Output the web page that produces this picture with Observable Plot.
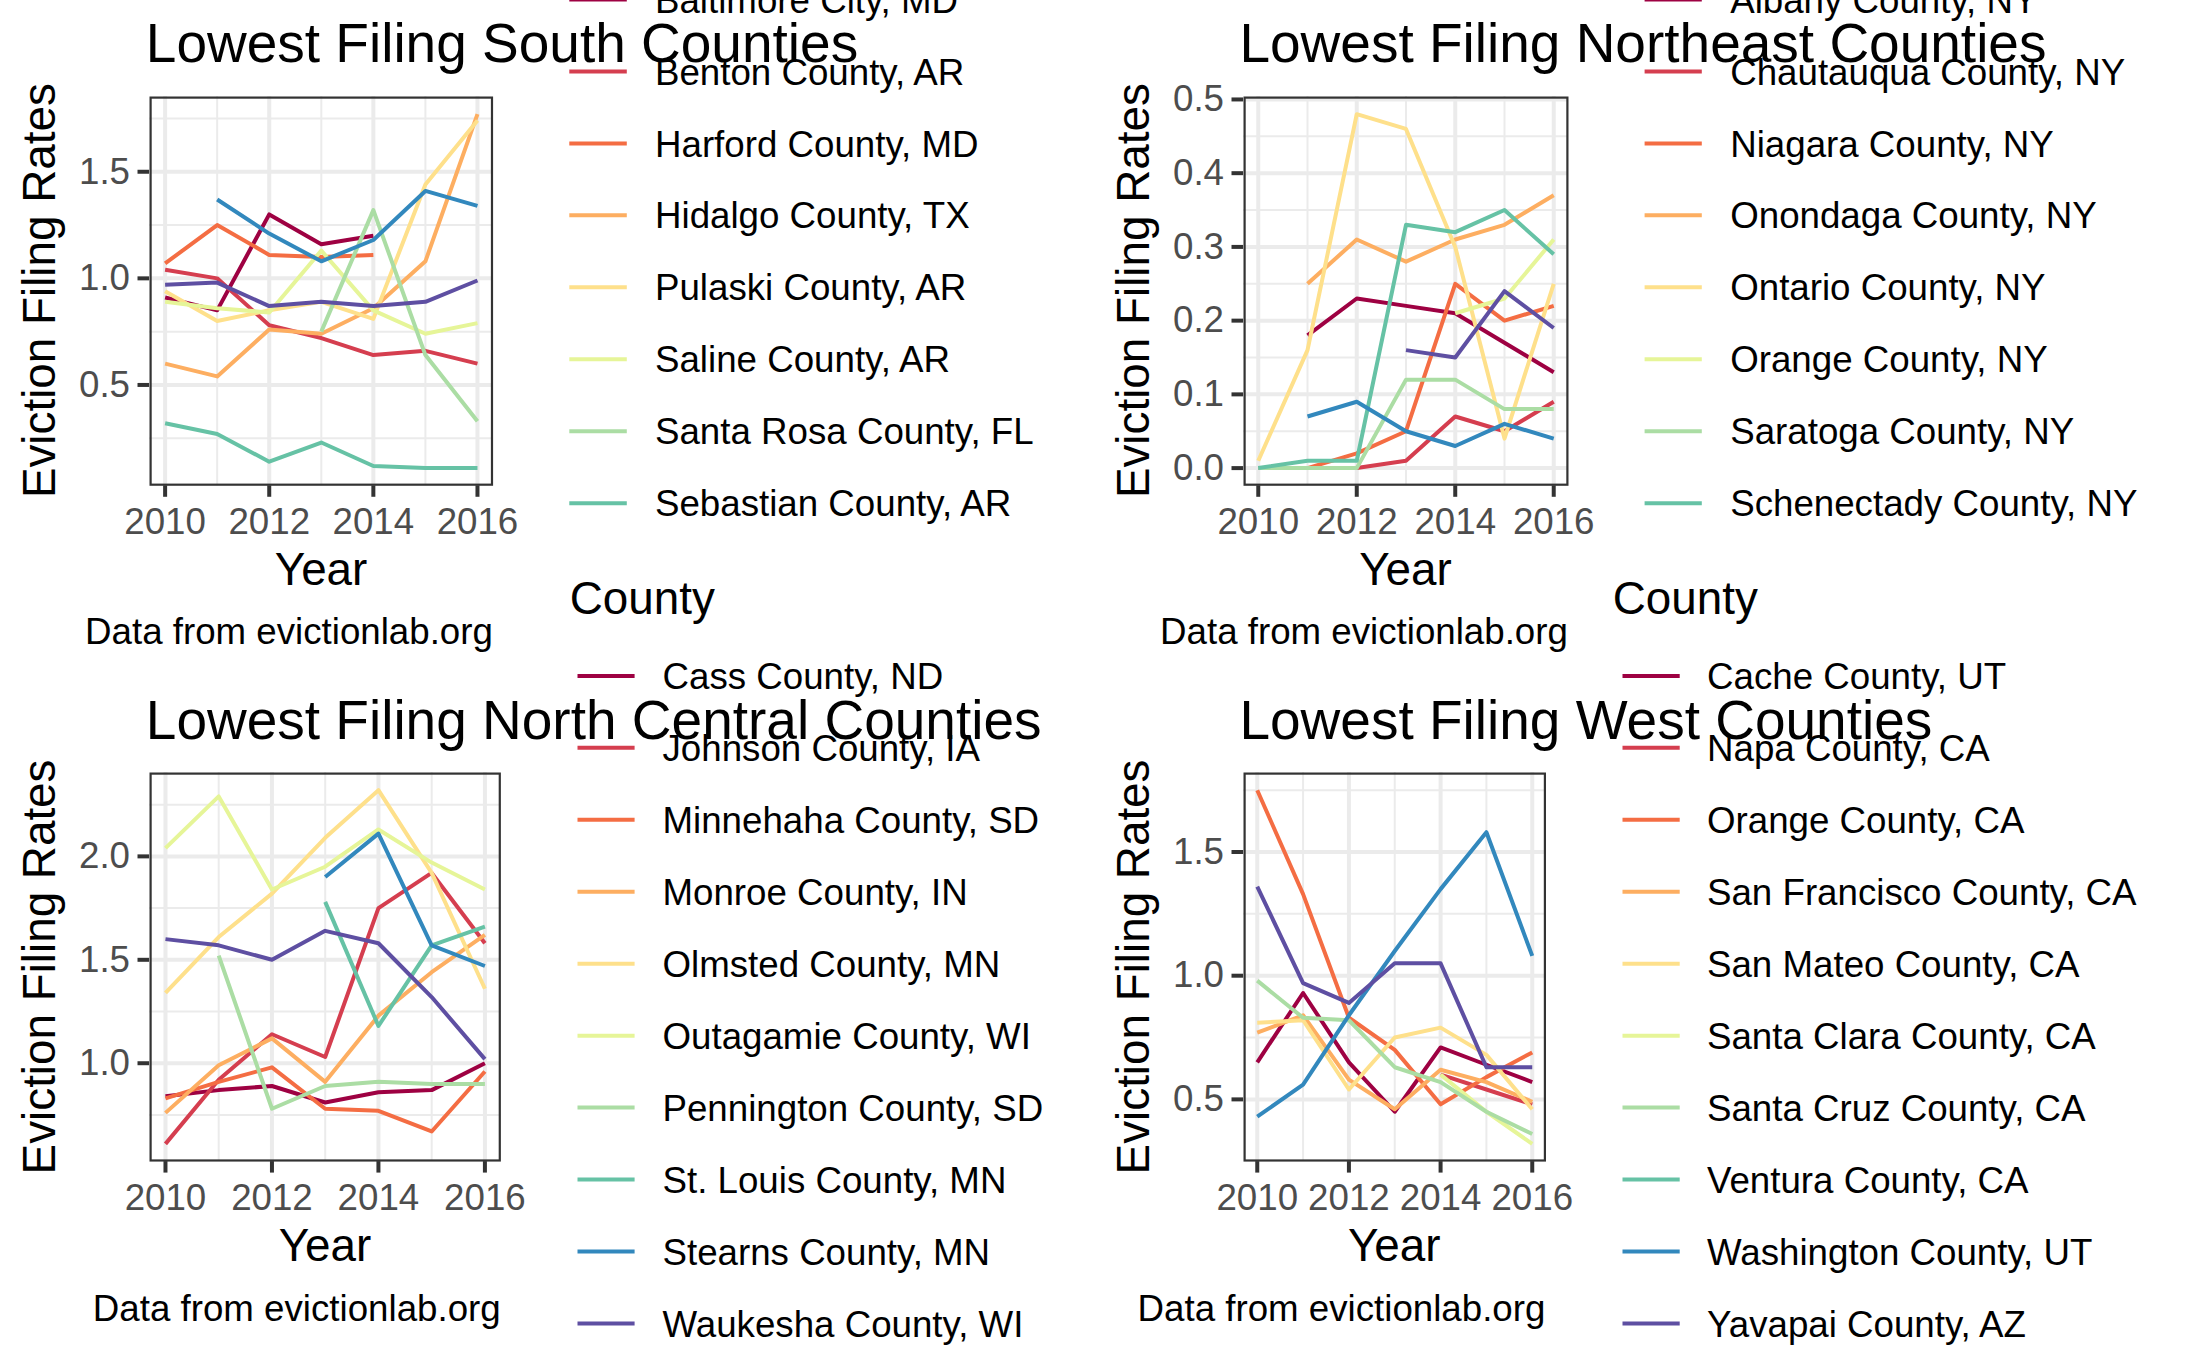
<!DOCTYPE html>
<html>
<head>
<meta charset="utf-8">
<script src="https://cdn.jsdelivr.net/npm/d3@7"></script>
<script src="https://cdn.jsdelivr.net/npm/@observablehq/plot@0.6"></script>
<style>
  html, body { margin: 0; padding: 0; background: #ffffff; overflow: hidden; }
  #page { position: absolute; left: 0; top: 0; width: 2187px; height: 1351px; background: #ffffff; overflow: hidden;
          font-family: "Liberation Sans", Arial, Helvetica, sans-serif; }
  #page svg { position: absolute; }
</style>
</head>
<body>
<div id="page"></div>
<script>
// ---------------- DATA ----------------
const years = [2010, 2011, 2012, 2013, 2014, 2015, 2016];
const xTicks = [2010, 2012, 2014, 2016];
const xMinorTicks = [2011, 2013, 2015];
const spectral10 = ["#9E0142", "#D53E4F", "#F46D43", "#FDAE61", "#FEE08B", "#E6F598", "#ABDDA4", "#66C2A5", "#3288BD", "#5E4FA2"];

// South
const southCounties = ["Baltimore City, MD", "Benton County, AR", "Harford County, MD", "Hidalgo County, TX",
  "Pulaski County, AR", "Saline County, AR", "Santa Rosa County, FL", "Sebastian County, AR",
  "South county 9 (label hidden)", "South county 10 (label hidden)"];
const southRates = [
  [0.91, 0.85, 1.30, 1.16, 1.20, null, null],
  [1.04, 1.00, 0.78, 0.72, 0.64, 0.66, 0.60],
  [1.07, 1.25, 1.11, 1.10, 1.11, null, null],
  [0.60, 0.54, 0.76, 0.74, 0.86, 1.08, 1.77],
  [0.94, 0.80, 0.85, 0.89, 0.81, 1.44, 1.74],
  [0.89, 0.86, 0.84, 1.13, 0.85, 0.74, 0.79],
  [null, null, null, 0.75, 1.32, 0.64, 0.33],
  [0.32, 0.27, 0.14, 0.23, 0.12, 0.11, 0.11],
  [null, 1.37, 1.21, 1.08, 1.18, 1.41, 1.34],
  [0.97, 0.98, 0.87, 0.89, 0.87, 0.89, 0.99]
];
const southYTicks = [0.5, 1.0, 1.5];
const southYMinor = [0.25, 0.75, 1.25, 1.75];

// Northeast
const neCounties = ["Albany County, NY", "Chautauqua County, NY", "Niagara County, NY", "Onondaga County, NY",
  "Ontario County, NY", "Orange County, NY", "Saratoga County, NY", "Schenectady County, NY",
  "Northeast county 9 (label hidden)", "Northeast county 10 (label hidden)"];
const neRates = [
  [null, 0.18, 0.23, 0.22, 0.21, 0.17, 0.13],
  [0.00, 0.00, 0.00, 0.01, 0.07, 0.05, 0.09],
  [null, 0.00, 0.02, 0.05, 0.25, 0.20, 0.22],
  [null, 0.25, 0.31, 0.28, 0.31, 0.33, 0.37],
  [0.01, 0.16, 0.48, 0.46, 0.30, 0.04, 0.25],
  [null, null, null, null, 0.21, 0.23, 0.31],
  [0.00, 0.00, 0.00, 0.12, 0.12, 0.08, 0.08],
  [0.00, 0.01, 0.01, 0.33, 0.32, 0.35, 0.29],
  [null, 0.07, 0.09, 0.05, 0.03, 0.06, 0.04],
  [null, null, null, 0.16, 0.15, 0.24, 0.19]
];
const neYTicks = [0.0, 0.1, 0.2, 0.3, 0.4, 0.5];
const neYMinor = [0.05, 0.15, 0.25, 0.35, 0.45];

// North Central
const ncCounties = ["Cass County, ND", "Johnson County, IA", "Minnehaha County, SD", "Monroe County, IN",
  "Olmsted County, MN", "Outagamie County, WI", "Pennington County, SD", "St. Louis County, MN",
  "Stearns County, MN", "Waukesha County, WI"];
const ncRates = [
  [0.84, 0.87, 0.89, 0.81, 0.86, 0.87, 1.00],
  [0.61, 0.92, 1.14, 1.03, 1.75, 1.92, 1.58],
  [0.83, 0.91, 0.98, 0.78, 0.77, 0.67, 0.96],
  [0.76, 0.99, 1.12, 0.91, 1.23, 1.44, 1.62],
  [1.34, 1.61, 1.82, 2.09, 2.32, 1.92, 1.36],
  [2.04, 2.29, 1.84, 1.95, 2.13, 1.97, 1.84],
  [null, 1.52, 0.78, 0.89, 0.91, 0.90, 0.90],
  [null, null, null, 1.78, 1.18, 1.57, 1.66],
  [null, null, null, 1.90, 2.11, 1.57, 1.47],
  [1.60, 1.57, 1.50, 1.64, 1.58, 1.32, 1.02]
];
const ncYTicks = [1.0, 1.5, 2.0];
const ncYMinor = [0.75, 1.25, 1.75, 2.25];

// West
const westCounties = ["Cache County, UT", "Napa County, CA", "Orange County, CA", "San Francisco County, CA",
  "San Mateo County, CA", "Santa Clara County, CA", "Santa Cruz County, CA", "Ventura County, CA",
  "Washington County, UT", "Yavapai County, AZ"];
const westRates = [
  [0.65, 0.93, 0.65, 0.45, 0.71, 0.64, 0.57],
  [null, null, null, null, 0.60, 0.54, 0.48],
  [1.75, 1.33, 0.83, 0.70, 0.48, 0.59, 0.69],
  [0.77, 0.84, 0.58, 0.46, 0.62, 0.57, 0.49],
  [0.81, 0.82, 0.54, 0.75, 0.79, 0.68, 0.46],
  [null, null, null, null, 0.60, 0.45, 0.32],
  [0.98, 0.83, 0.82, 0.63, 0.57, 0.45, 0.36],
  [null, null, null, null, null, null, null],
  [0.43, 0.56, 0.84, 1.10, 1.35, 1.58, 1.08],
  [1.36, 0.97, 0.89, 1.05, 1.05, 0.63, 0.63]
];
const westYTicks = [0.5, 1.0, 1.5];
const westYMinor = [0.75, 1.25, 1.75];

const titles = ["Lowest Filing South Counties", "Lowest Filing Northeast Counties",
                "Lowest Filing North Central Counties", "Lowest Filing West Counties"];
const xLabel = "Year";
const yLabel = "Eviction Filing Rates";
const captionText = "Data from evictionlab.org";
const legendTitle = "County";

// ---------------- LAYOUT ----------------
const FONT = "Liberation Sans, Arial, Helvetica, sans-serif";
const SZ_TITLE = 55, SZ_AXTITLE = 45.8, SZ_SMALL = 36.7;

const panels = [
  { counties: southCounties, rates: southRates, yTicks: southYTicks, yMinor: southYMinor, title: titles[0],
    box: { L: 149.3, R: 492.9, T: 96, B: 485.3 },
    legend: { x1: 569.3, x2: 626.8, tx: 655, y0: -0.5, shown: 8, titleY: null } },
  { counties: neCounties, rates: neRates, yTicks: neYTicks, yMinor: neYMinor, title: titles[1],
    box: { L: 1242.9, R: 1567.9, T: 96, B: 485.3 },
    legend: { x1: 1644.6, x2: 1701.8, tx: 1730.2, y0: -0.5, shown: 8, titleY: null } },
  { counties: ncCounties, rates: ncRates, yTicks: ncYTicks, yMinor: ncYMinor, title: titles[2],
    box: { L: 149.3, R: 500.7, T: 772.4, B: 1161.5 },
    legend: { x1: 577.5, x2: 634.6, tx: 662.5, y0: 675.9, shown: 10, titleX: 569.8, titleY: 613.6 } },
  { counties: westCounties, rates: westRates, yTicks: westYTicks, yMinor: westYMinor, title: titles[3],
    box: { L: 1242.9, R: 1545.4, T: 772.4, B: 1161.5 },
    legend: { x1: 1622.5, x2: 1679.7, tx: 1707, y0: 675.9, shown: 10, titleX: 1612.7, titleY: 613.6 } }
];
const LEG_STEP = 71.95;

const page = document.getElementById("page");

panels.forEach(p => {
  const data = [];
  p.counties.forEach((c, i) => p.rates[i].forEach((v, j) => {
    if (v != null) data.push({ county: c, year: years[j], value: v });
  }));
  const ext = d3.extent(data, d => d.value);
  const pad = (ext[1] - ext[0]) * 0.05;
  const mL = 110, mR = 12, mT = 12, mB = 80;
  const { L, R, T, B } = p.box;
  const grid = { stroke: "#EBEBEB", strokeOpacity: 1 };
  const chart = Plot.plot({
    width: (R - L) + mL + mR,
    height: (B - T) + mT + mB,
    marginLeft: mL, marginRight: mR, marginTop: mT, marginBottom: mB,
    x: { domain: [2009.7, 2016.3] },
    y: { domain: [ext[0] - pad, ext[1] + pad] },
    color: { domain: p.counties, range: spectral10 },
    style: { fontFamily: FONT, background: "transparent", overflow: "visible" },
    marks: [
      Plot.gridX(xMinorTicks, { ...grid, strokeWidth: 2 }),
      Plot.gridY(p.yMinor, { ...grid, strokeWidth: 2 }),
      Plot.gridX(xTicks, { ...grid, strokeWidth: 4 }),
      Plot.gridY(p.yTicks, { ...grid, strokeWidth: 4 }),
      Plot.line(data, { x: "year", y: "value", z: "county", stroke: "county",
                        strokeWidth: 4, strokeLinejoin: "round", strokeLinecap: "butt" }),
      Plot.frame({ stroke: "#333333", strokeWidth: 2.2, inset: 1.1 }),
      Plot.axisX(xTicks, { label: null, tickSize: 11.5, tickPadding: 11, tickFormat: d3.format("d"),
                           fontSize: SZ_SMALL, fill: "#4D4D4D", stroke: "#333333", strokeWidth: 4 }),
      Plot.axisY(p.yTicks, { label: null, tickSize: 11.5, tickPadding: 8, tickFormat: d3.format(".1f"),
                             fontSize: SZ_SMALL, fill: "#4D4D4D", stroke: "#333333", strokeWidth: 4 })
    ]
  });
  chart.style.position = "absolute";
  chart.style.left = (L - mL) + "px";
  chart.style.top = (T - mT) + "px";
  page.appendChild(chart);
});

// ---------------- TEXT + LEGEND OVERLAY ----------------
const svg = d3.select(page).append("svg")
  .attr("width", 2187).attr("height", 1351)
  .style("left", "0px").style("top", "0px")
  .style("font-family", FONT);

panels.forEach(p => {
  const { L, R, T, B } = p.box;
  const cy = (T + B) / 2;
  const colour = d3.scaleOrdinal(p.counties, spectral10);

  // legend
  const lg = p.legend;
  if (lg.titleY != null) {
    svg.append("text").attr("x", lg.titleX).attr("y", lg.titleY)
      .attr("font-size", SZ_AXTITLE).attr("fill", "#000").text(legendTitle);
  }
  p.counties.slice(0, lg.shown).forEach((c, i) => {
    const y = lg.y0 + i * LEG_STEP;
    svg.append("line").attr("x1", lg.x1).attr("x2", lg.x2).attr("y1", y).attr("y2", y)
      .attr("stroke", colour(c)).attr("stroke-width", 4);
    svg.append("text").attr("x", lg.tx).attr("y", y + 0.358 * SZ_SMALL)
      .attr("font-size", SZ_SMALL).attr("fill", "#000").text(c);
  });

  // title
  svg.append("text").attr("x", L - 3.5).attr("y", T - 33.7)
    .attr("font-size", SZ_TITLE).attr("fill", "#000").text(p.title);
  // y label
  svg.append("text").attr("transform", `translate(${L - 93.9},${cy}) rotate(-90)`)
    .attr("text-anchor", "middle").attr("font-size", SZ_AXTITLE).attr("fill", "#000").text(yLabel);
  // x label
  svg.append("text").attr("x", (L + R) / 2).attr("y", B + 99.8)
    .attr("text-anchor", "middle").attr("font-size", SZ_AXTITLE).attr("fill", "#000").text(xLabel);
  // caption
  svg.append("text").attr("x", R).attr("y", B + 159)
    .attr("text-anchor", "end").attr("font-size", SZ_SMALL).attr("fill", "#000").text(captionText);
});
</script>
</body>
</html>
